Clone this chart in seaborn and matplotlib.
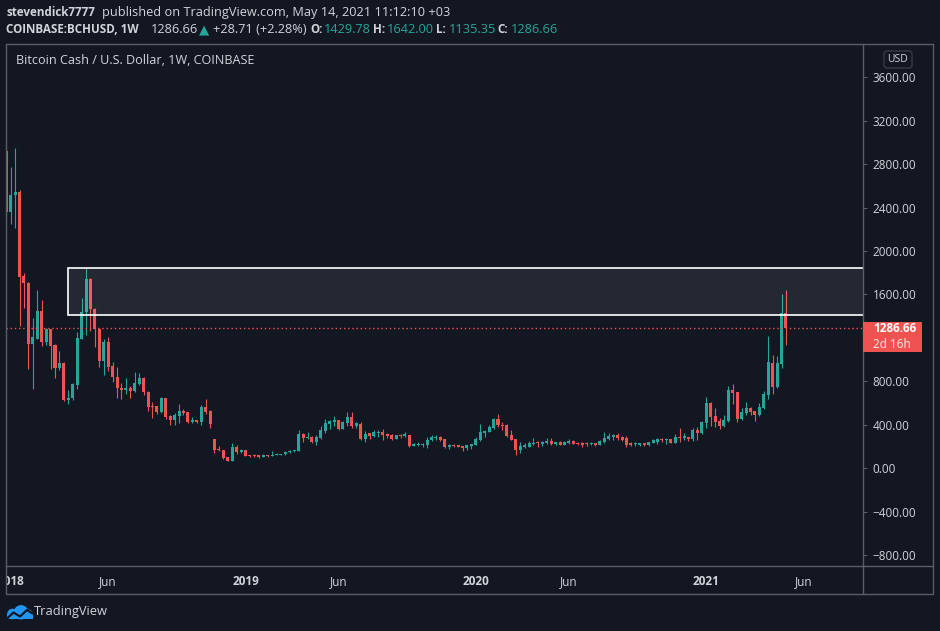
import numpy as np
import pandas as pd
import matplotlib
matplotlib.use("Agg")
import matplotlib.pyplot as plt
from matplotlib.patches import Rectangle, FancyBboxPatch, Circle
from matplotlib.lines import Line2D
from matplotlib.transforms import Affine2D
import seaborn as sns

# weekly candles, first bar = week of 2017-12-25
first_week = "2017-12-25"
opens = [
    2920, 2362, 2515, 2543, 1769, 1708, 1143, 1192, 1447, 1161,
    1278, 1133, 922, 968, 627, 649, 765, 1190, 1438, 1742,
    1465, 1284, 986, 1161, 940, 842, 741, 719, 741, 710,
    774, 830, 701, 572, 572, 517, 646, 480, 443, 480,
    526, 517, 424, 443, 424, 563, 526, 268, 176, 167,
    102, 65, 194, 148, 167, 120, 120, 120, 102, 120,
    115, 120, 125, 129, 148, 155, 160, 314, 277, 286,
    240, 277, 345, 406, 424, 443, 360, 415, 470, 388,
    406, 268, 323, 295, 323, 332, 314, 305, 268, 305,
    295, 305, 203, 212, 215, 212, 259, 277, 286, 268,
    194, 212, 212, 203, 185, 203, 213, 263, 323, 332,
    369, 452, 397, 397, 305, 268, 167, 194, 194, 222,
    240, 222, 231, 250, 222, 240, 213, 231, 250, 231,
    231, 231, 222, 231, 213, 241, 268, 286, 305, 286,
    277, 231, 222, 213, 231, 213, 231, 240, 268, 259,
    268, 231, 286, 277, 286, 268, 351, 323, 415, 601,
    480, 433, 388, 433, 719, 700, 452, 508, 554, 526,
    489, 554, 673, 969, 746, 960, 1429.78,
]
highs = [
    2950, 2773, 2948, 2560, 1797, 1715, 1382, 1640, 1548, 1288,
    1285, 1140, 1079, 979, 719, 784, 1253, 1567, 1843, 1752,
    1475, 1290, 1189, 1207, 974, 928, 781, 830, 756, 885,
    876, 835, 710, 609, 575, 655, 650, 489, 507, 590,
    545, 520, 471, 445, 581, 636, 535, 270, 204, 170,
    105, 231, 213, 176, 170, 125, 129, 122, 129, 122,
    157, 139, 132, 157, 167, 170, 351, 323, 332, 295,
    305, 388, 452, 443, 480, 445, 433, 516, 516, 424,
    424, 341, 325, 351, 351, 360, 323, 314, 308, 314,
    332, 308, 231, 240, 231, 286, 305, 305, 295, 270,
    222, 222, 214, 205, 215, 225, 286, 406, 351, 397,
    461, 498, 424, 406, 351, 270, 240, 231, 250, 277,
    250, 250, 277, 277, 242, 250, 250, 268, 259, 240,
    240, 240, 240, 233, 259, 332, 323, 314, 323, 295,
    295, 240, 240, 233, 233, 243, 268, 277, 277, 277,
    270, 314, 369, 323, 290, 369, 378, 433, 655, 605,
    554, 461, 489, 756, 774, 705, 554, 609, 563, 530,
    600, 710, 1217, 1042, 1033, 1604, 1642.00,
]
lows = [
    2300, 2251, 2214, 1312, 1477, 913, 729, 1185, 1125, 1136,
    913, 830, 904, 618, 590, 624, 729, 1185, 1226, 1266,
    1115, 931, 857, 894, 796, 649, 636, 682, 649, 701,
    765, 673, 526, 461, 498, 507, 452, 396, 396, 415,
    489, 415, 415, 415, 396, 498, 369, 139, 158, 84,
    65, 63, 130, 139, 108, 105, 102, 93, 99, 102,
    112, 118, 118, 120, 139, 148, 155, 240, 268, 231,
    212, 268, 323, 360, 388, 351, 358, 388, 369, 369,
    259, 240, 268, 286, 286, 259, 277, 259, 265, 277,
    286, 194, 200, 203, 194, 185, 250, 259, 250, 185,
    176, 194, 192, 157, 167, 176, 210, 250, 286, 330,
    360, 378, 351, 286, 255, 124, 139, 185, 194, 213,
    194, 203, 222, 213, 213, 210, 210, 222, 220, 213,
    194, 203, 213, 203, 210, 231, 259, 259, 259, 250,
    194, 203, 203, 203, 203, 203, 228, 222, 240, 222,
    228, 228, 240, 259, 250, 250, 259, 314, 369, 388,
    378, 360, 378, 424, 590, 424, 443, 489, 489, 433,
    480, 545, 637, 682, 737, 922, 1135.35,
]
closes = [
    2362, 2515, 2543, 1763, 1702, 1143, 1207, 1447, 1161, 1278,
    1127, 922, 968, 627, 649, 775, 1198, 1438, 1742, 1465,
    1284, 986, 1161, 934, 842, 741, 719, 741, 710, 784,
    830, 701, 563, 563, 517, 646, 471, 443, 489, 526,
    507, 424, 443, 424, 563, 517, 406, 167, 167, 93,
    65, 194, 148, 167, 111, 111, 111, 102, 120, 115,
    120, 129, 129, 148, 157, 167, 314, 277, 286, 240,
    286, 351, 415, 433, 443, 360, 424, 470, 388, 415,
    268, 314, 295, 332, 332, 305, 295, 268, 305, 295,
    314, 203, 222, 222, 222, 259, 286, 286, 259, 194,
    212, 203, 194, 185, 212, 222, 272, 332, 341, 378,
    452, 397, 388, 296, 259, 167, 203, 212, 231, 231,
    231, 240, 250, 222, 240, 213, 240, 250, 222, 222,
    213, 222, 231, 213, 250, 277, 296, 305, 277, 259,
    213, 213, 231, 231, 213, 240, 259, 268, 259, 268,
    231, 286, 277, 296, 268, 351, 323, 424, 601, 472,
    424, 388, 443, 719, 691, 452, 517, 554, 517, 489,
    563, 682, 978, 746, 969, 1428, 1286.66,
]

tick_dates = ["2018-01-01", "2018-06-04", "2019-01-07", "2019-06-03",
              "2020-01-06", "2020-06-01", "2021-01-04", "2021-06-07"]
tick_labels = ["2018", "Jun", "2019", "Jun", "2020", "Jun", "2021", "Jun"]
# 1200 sits under the last-price label, so it is not listed
price_ticks = [-800, -400, 0, 400, 800, 1600, 2000, 2400, 2800, 3200, 3600]

zone_start = "2018-04-02"
zone_low, zone_high = 1407, 1840
last_price = 1286.66

BG = "#131722"
UP = "#26a69a"
DOWN = "#ef5350"
TXT = "#d1d4dc"
FRAME = "#5a5e69"

sns.set_theme(style="dark", rc={
    "axes.facecolor": BG, "figure.facecolor": BG,
    "axes.edgecolor": FRAME, "text.color": TXT,
    "xtick.color": TXT, "ytick.color": TXT,
})
plt.rcParams["font.family"] = ["Open Sans", "DejaVu Sans"]

df = pd.DataFrame({"open": opens, "high": highs, "low": lows, "close": closes})
df["date"] = pd.date_range(first_week, periods=len(df), freq="W-MON")
origin = pd.Timestamp("2018-01-01")
df["x"] = (df["date"] - origin).dt.days / 7
df["up"] = df["close"] >= df["open"]
df["color"] = np.where(df["up"], UP, DOWN)
df["body_lo"] = df[["open", "close"]].min(axis=1)
df["body_h"] = (df["close"] - df["open"]).abs().clip(lower=9)

W, H = 940, 631
fig = plt.figure(figsize=(9.4, 6.31), dpi=100)
px = Affine2D().scale(1 / W, -1 / H).translate(0, 1) + fig.transFigure

# pane: left 6.3px, right 863px, top 43.5px, bottom 566px
ax = fig.add_axes([6.3 / W, 1 - 566 / H, (863 - 6.3) / W, (566 - 43.5) / H])
ax.set_facecolor(BG)
for s in ax.spines.values():
    s.set_visible(False)

ax.vlines(df["x"], df["low"], df["high"], colors=df["color"], lw=0.8, zorder=2)
ax.bar(df["x"], df["body_h"], bottom=df["body_lo"], width=0.68,
       color=df["color"], linewidth=0, zorder=2)

zx = (pd.Timestamp(zone_start) - origin).days / 7
ax.add_patch(Rectangle((zx, zone_low), 400, zone_high - zone_low,
                       facecolor=(1, 1, 1, 0.075), edgecolor="white", lw=1.2, zorder=3))
ax.axhline(last_price, color=DOWN, lw=1.0, ls=(0, (1, 2)), zorder=2.5)

ax.set_xlim((6.3 - 10.7) / 4.43, (863 - 10.7) / 4.43)
ax.set_ylim(-902, 3911)

ax.yaxis.tick_right()
ax.set_yticks(price_ticks)
ax.set_yticklabels([f"{p:.2f}".replace("-", "\u2212") for p in price_ticks])
ax.tick_params(axis="y", length=3, width=0.8, color=FRAME, pad=4, labelsize=8.5, labelcolor=TXT)

tx = [(pd.Timestamp(d) - origin).days / 7 for d in tick_dates]
ax.set_xticks(tx)
ax.set_xticklabels(tick_labels)
for lab in ax.get_xticklabels():
    if lab.get_text() != "Jun":
        lab.set_fontweight("bold")
ax.tick_params(axis="x", length=2.5, width=0.8, color=FRAME, pad=4, labelsize=8.5, labelcolor=TXT)
ax.grid(False)

# the "2" of 2018 falls left of the pane and is hidden, as in TradingView
fig.add_artist(Rectangle((0, 566), 6.3, 30, transform=px, facecolor=BG, edgecolor="none", zorder=5))

# frame lines
for (x0, y0, x1, y1) in [(6.3, 43.5, 933, 43.5), (6.3, 594, 933, 594), (6.3, 43.5, 6.3, 594),
                         (933, 43.5, 933, 594), (863, 43.5, 863, 594), (6.3, 566, 933, 566)]:
    fig.add_artist(Line2D([x0, x1], [y0, y1], transform=px, color=FRAME, lw=1, zorder=6))

# last price label
fig.add_artist(Rectangle((863, 321.5), 59, 30, transform=px, facecolor=DOWN, edgecolor="none", zorder=7))
fig.text(873 / W, 1 - 329 / H, "1286.66", color="white", fontsize=8.5, fontweight="bold",
         va="center", ha="left", zorder=8)
fig.text(873 / W, 1 - 344 / H, "2d 16h", color="white", fontsize=8.5, alpha=0.9,
         va="center", ha="left", zorder=8)

# USD badge
fig.add_artist(FancyBboxPatch((884, 51), 28, 17, boxstyle="round,pad=0,rounding_size=3",
                              transform=px, facecolor=BG, edgecolor="#363a45", lw=1, zorder=7))
fig.text(898 / W, 1 - 59.5 / H, "USD", color=TXT, fontsize=7.5, ha="center", va="center", zorder=8)

# header
y1, y2 = 1 - 12.5 / H, 1 - 29.5 / H
BOLD, REG = 8.4, 9.2
fig.text(6.5 / W, y1, "stevendick7777", fontsize=BOLD, fontweight="bold", color=TXT, va="center")
fig.text(101.5 / W, y1, "published on TradingView.com, May 14, 2021 11:12:10 +03",
         fontsize=REG, color=TXT, va="center")
fig.text(6.5 / W, y2, "COINBASE:BCHUSD, 1W", fontsize=BOLD, fontweight="bold", color=TXT, va="center")
fig.text(151 / W, y2, "1286.66", fontsize=REG, color=TXT, va="center")
fig.text(199 / W, y2, "\u25b2", fontsize=9.5, color=UP, va="center", family=["DejaVu Sans"])
fig.text(213 / W, y2, "+28.71 (+2.28%)", fontsize=REG, color=TXT, va="center")
for lbl, lx, val, vx in [("O:", 310, "1429.78", 324), ("H:", 373, "1642.00", 387),
                         ("L:", 436, "1135.35", 449), ("C:", 497, "1286.66", 511)]:
    fig.text(lx / W, y2, lbl, fontsize=BOLD, fontweight="bold", color=TXT, va="center")
    fig.text(vx / W, y2, val, fontsize=REG, color=UP, va="center")

fig.text(15.7 / W, 1 - 61 / H, "Bitcoin Cash / U.S. Dollar, 1W, COINBASE",
         fontsize=9.1, color=TXT, va="center")

# TradingView logo
LOGO = "#2196f3"
for c in [Circle((12.5, 614), 5.3), Circle((21, 612.3), 7.2), Circle((28, 614.3), 4.8)]:
    c.set_transform(px); c.set_facecolor(LOGO); c.set_edgecolor("none"); c.set_zorder(7)
    fig.add_artist(c)
fig.add_artist(Rectangle((7.2, 614), 25.6, 5.4, transform=px, facecolor=LOGO, edgecolor="none", zorder=7))
fig.add_artist(Line2D([7, 13.5, 20, 27, 32.5], [618.5, 612.5, 616.5, 610, 613.5],
                      transform=px, color=BG, lw=1.6, zorder=8))
fig.text(34 / W, 1 - 612 / H, "TradingView", fontsize=9.3, color=TXT, va="center")

fig.savefig("out.png", dpi=100, facecolor=BG)
